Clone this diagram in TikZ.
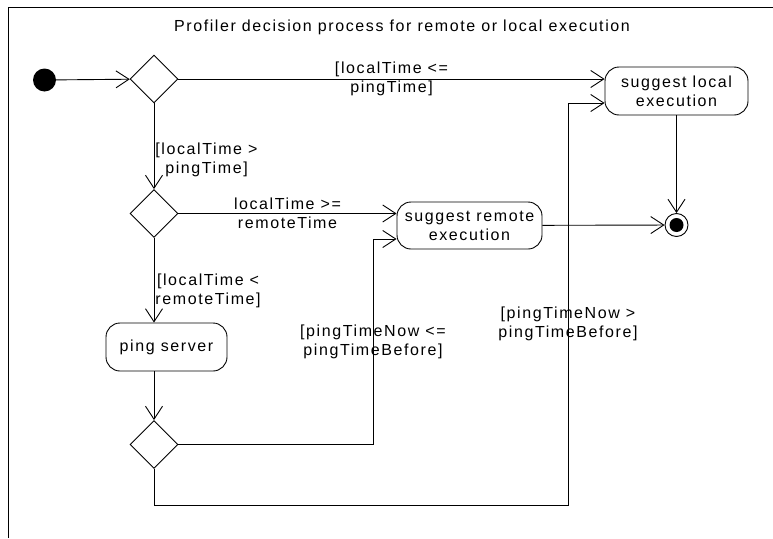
\documentclass[tikz,border=0pt]{standalone}
\usepackage{fontspec}
\setmainfont{Liberation Sans}[LetterSpace=10]
\usepackage{tikz}
\usetikzlibrary{shapes.geometric,arrows.meta,calc}
\tikzstyle{actbox} = [draw=black, line width=0.9pt, rectangle, rounded corners=14pt,
    align=center, inner sep=2pt]
\tikzstyle{decision} = [draw=black, line width=0.9pt, diamond, minimum width=48pt,
    minimum height=48pt, inner sep=0pt]
\tikzstyle{startnode} = [fill=black, circle, minimum size=23pt, inner sep=0pt]
\tikzstyle{stopnode} = [draw=black, line width=0.9pt, circle, minimum size=23pt, inner sep=0pt,
    path picture={\fill (path picture bounding box.center) circle (7pt);}]
\tikzstyle{flow} = [draw=black, line width=0.9pt, -{Straight Barb[length=13pt,width=17pt]}]
\tikzstyle{guard} = [align=center, inner sep=1pt]

\begin{document}
\begin{tikzpicture}[x=1pt, y=-1pt, font=\fontsize{16}{19}\selectfont]
\useasboundingbox (0,0) rectangle (773,538);
\draw[line width=0.9pt] (8,538) |- (773,7);
\node[anchor=base] (title) at (402,31) {Profiler decision process for remote or local execution};

\node[startnode] (start) at (44.5,80) {};
\node[decision] (dec1) at (154,79) {};
\node[decision] (dec2) at (154,213.5) {};
\node[decision] (dec3) at (154,444.5) {};
\node[actbox, minimum width=143pt, minimum height=48pt] (local) at (676.5,91) {suggest local\\execution};
\node[actbox, minimum width=145pt, minimum height=47pt] (remote) at (469.5,225.5) {suggest remote\\execution};
\node[actbox, minimum width=121pt, minimum height=48pt] (ping) at (166.5,347) {ping server};
\node[stopnode] (stop) at (676.5,225) {};
\coordinate (lowbend) at (373,0);
\coordinate (highbend) at (568,505);

\draw[flow] (start) -- (dec1);
\draw[flow] (dec1.east) -- node[guard] {[localTime <=\\pingTime]} (dec1.east -| local.west);
\draw[flow] (dec1.south) -- node[guard, anchor=west, pos=0.66] {[localTime >\\pingTime]} (dec2.north);
\draw[flow] (dec2.east) -- node[guard] {localTime >=\\remoteTime} (dec2.east -| remote.west);
\draw[flow] (dec2.south) -- node[guard, anchor=west, pos=0.63] {[localTime <\\remoteTime]} (dec2.south |- ping.north);
\draw[flow] (dec3.north |- ping.south) -- (dec3.north);
\draw[flow] (dec3.east) -- (dec3.east -| lowbend)
    -- node[guard] {[pingTimeNow <=\\pingTimeBefore]} ($(lowbend |- remote.west)+(0,13.5)$)
    -- ($(remote.west)+(0,13.5)$);
\draw[flow] (dec3.south) -- (dec3.south |- highbend) -- (highbend)
    -- node[guard, pos=0.45] {[pingTimeNow >\\pingTimeBefore]} ($(highbend |- local.west)+(0,12)$)
    -- ($(local.west)+(0,12)$);
\draw[flow] (local) -- (stop);
\draw[flow] (remote) -- (stop);
\end{tikzpicture}
\end{document}
